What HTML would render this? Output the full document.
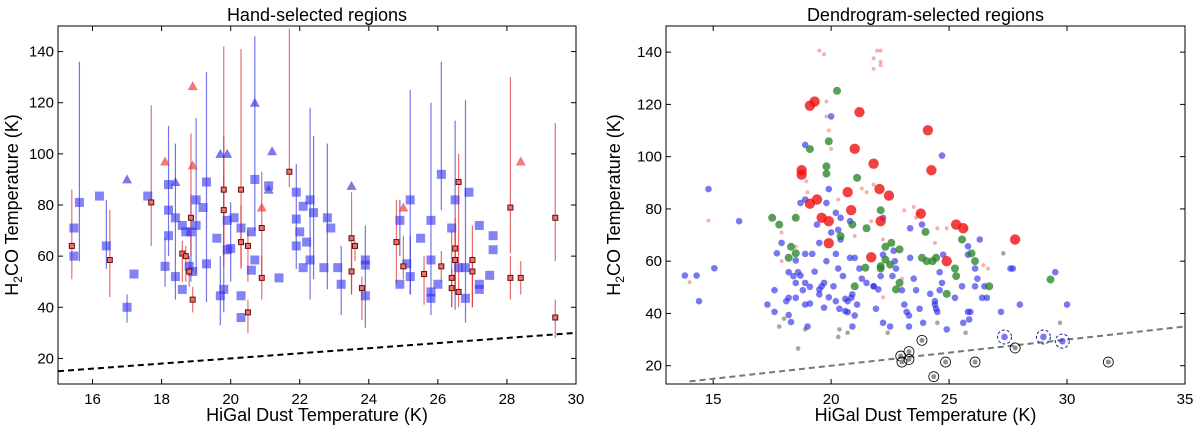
<!DOCTYPE html>
<html><head><meta charset="utf-8"><style>
html,body{margin:0;padding:0;background:#fff;width:1200px;height:430px;overflow:hidden}
svg text{font-family:"Liberation Sans","DejaVu Sans",sans-serif}
</style></head><body>
<svg id="chart" width="1200" height="430" xmlns="http://www.w3.org/2000/svg"></svg>
<script>
// ---------- Left panel data ----------
const lBlueX=[15.46,15.46,15.62,16.2,16.4,17.0,17.2,17.6,18.1,18.2,18.2,18.2,18.4,18.4,18.6,18.6,18.7,18.85,18.8,18.9,19.0,19.0,19.2,19.3,19.3,19.6,19.7,19.8,19.9,19.9,20.0,20.1,20.3,20.3,20.3,20.6,20.6,20.7,20.7,21.1,21.4,21.9,21.9,21.9,22.0,22.1,22.1,22.2,22.3,22.3,22.4,22.7,22.8,22.9,23.1,23.2,23.9,23.9,23.9,24.9,24.9,25.1,25.2,25.2,25.5,25.8,25.8,25.8,25.8,26.0,26.1,26.4,26.5,26.6,26.8,26.8,26.9,27.2,27.2,27.2,27.5,27.6,27.6];
const lBlueY=[71,60,81,83.5,64,40,53,83.5,56,88,78,68,75,52,72,47,69.5,69.5,56,54,82,72,79,89,57,67,44.5,47,74,62.5,63,75,71,44.5,36,69.5,54.5,58.5,90,87.5,51.5,85,74.5,64,69.5,55.5,79.5,65.5,82,58.5,77,55.5,75,71,55.5,49,58.5,56.5,44.5,74,49,57,52,82,67,74,58.5,46,43.5,49,92,71,82,55.5,55.5,43.5,85,72,49,47,52.5,68,62.5];
const lBlueLo=[null,null,58,null,55,34,null,null,48,null,60,null,43,null,null,null,null,50,null,null,53,null,null,42,null,null,33,38,null,null,50,null,null,null,null,null,null,null,70,null,null,55,null,null,null,null,null,null,43,null,51,null,47,null,null,37,32,null,null,60,null,null,45,45,null,37,null,null,null,null,78,null,39,null,null,34,null,null,null,null,null,null,null];
const lBlueHi=[null,null,136,null,82,45,null,null,67,null,111,null,104,null,null,null,null,84,null,null,114,null,null,132,null,null,60,92,null,null,81,null,null,null,null,null,null,null,146,null,null,96,null,null,null,null,null,null,118,null,107,null,104,null,null,64,72,null,null,82,null,null,68,125,null,120,null,null,null,null,136,null,113,null,null,121,null,null,null,null,null,null,null];
const lRedX=[15.4,16.5,17.7,18.6,18.7,18.85,18.8,18.9,19.8,19.8,20.3,20.3,20.5,20.5,20.9,20.9,21.7,23.5,23.5,23.6,23.8,24.8,25.0,25.6,26.1,26.4,26.4,26.5,26.5,26.6,26.6,27.0,27.0,28.1,28.1,28.4,29.4,29.4];
const lRedY=[64,58.5,81,61,60,75,54,43,86,78,86,65.5,64,38,71,51.5,93,67,54,64,47.5,65.5,56,53,56,51.5,47.5,63,58.5,89,46,58.5,54,79,51.5,51.5,75,36];
const lRedLo=[51,44,64,50,50,60,48,38,56,60,56,55,50,30,53,43,87,45,45,58,35,49,51,41,50,40,40,45,45,60,40,40,40,61,43,45,58,28];
const lRedHi=[86,78,119,66,64,108,60,48,142,107,141,80,70,43,93,60,149,85,65,66,52,82,68,60,62,70,55,75,70,100,60,72,60,130,60,58,112,43];
const lRedTriX=[18.1,18.9,18.9,20.9,25.0,28.4];
const lRedTriY=[97,126.5,95.5,79,79,97];
const lBlueTriX=[17.0,18.4,19.7,19.9,20.7,21.1,21.2,23.5];
const lBlueTriY=[90,89,100,100,120,86,101,87.5];
const lXTicks=[16,18,20,22,24,26,28,30];
const lYTicks=[20,40,60,80,100,120,140];
// ---------- Right panel data ----------
const rBlueX=[13.8,14.3,14.4,14.8,15.05,16.1,17.3,17.6,17.6,17.7,17.9,18.1,18.2,18.2,18.2,18.3,18.4,18.5,18.5,18.5,18.6,18.7,18.7,18.8,18.9,18.9,18.9,18.9,18.9,19.0,19.1,19.1,19.2,19.3,19.4,19.5,19.5,19.5,19.6,19.7,19.7,19.8,19.8,19.9,19.9,20.0,20.0,20.1,20.2,20.2,20.2,20.3,20.3,20.35,20.4,20.4,20.5,20.6,20.6,20.7,20.7,20.8,20.8,20.85,20.9,20.9,21.0,21.0,21.1,21.2,21.3,21.5,21.8,21.8,21.9,22.0,22.1,22.2,22.2,22.2,22.5,22.6,22.65,22.7,22.75,23.0,23.1,23.2,23.3,23.3,23.35,23.35,23.5,23.6,23.75,23.85,23.9,24.2,24.4,24.4,24.45,24.5,24.6,24.6,24.7,24.7,24.75,24.9,25.25,25.55,25.6,25.8,25.8,25.8,25.85,25.9,26.1,26.1,26.2,26.3,26.4,26.5,26.6,27.2,27.6,27.7,28.0,29.5,30.0];
const rBlueY=[54.5,54.5,44.7,87.6,57.3,75.3,43.4,48.9,40.6,63,67,44.7,55.8,46,39.4,36.7,54.3,51.7,46,60.3,55.8,82.3,54.5,48.9,62.8,43.4,104.5,83.6,51.7,35,50.2,43.8,62.8,56,74,67,49.2,47.3,50.4,42.2,51.7,60,82.3,87.6,46.2,115.4,71,50.4,62.8,78.5,44.7,72,57.2,41.8,76.6,68.3,54.3,40.9,45.6,40.5,44.7,75.3,61.3,46,47.3,35,61.3,39.2,43.4,57.2,53.3,51.7,50.4,50.4,41.8,49.2,54.3,62.5,76.6,36.4,35,54.3,64,60,57.2,48.9,43.4,40.6,35,39.2,72.6,61.3,53.3,48.9,41.8,74,36.4,47.5,44.7,43.4,41.8,40.6,55.8,48.9,51.7,100.4,62.5,33.9,46,50.4,36.4,65.7,62.5,40.6,37.7,40.6,57.2,50.4,53.3,68.3,46,50.4,46,40.6,57.2,57.2,43.4,55.8,43.4];
const rGreenX=[17.5,17.8,18.2,18.3,18.5,18.5,19.1,19.8,19.8,19.9,20.25,20.4,20.9,21.1,21.45,21.5,21.0,22.1,22.1,22.1,22.3,22.3,22.5,22.55,22.75,22.9,22.9,23.85,24.0,24.05,24.3,24.45,24.9,25.25,25.3,25.55,25.95,26.1,26.7,29.3];
const rGreenY=[76.6,74,61.3,65.5,76.6,63,102.9,93.5,96.3,105.9,125.2,69.6,74,91.9,57.5,72.6,50.4,79.5,58.1,57.2,65.5,60.6,58.7,67,49.2,64.5,51.7,61.3,71.2,60,60,61.3,47.5,57.2,54.3,68.3,63,60,50.4,53];
const rRedX=[19.1,19.3,18.75,18.75,19.1,19.4,19.6,19.9,19.9,20.7,20.85,21.0,21.2,21.7,21.8,22.05,22.1,22.45,23.8,24.1,24.25,24.9,25.3,25.6,27.8];
const rRedY=[119.5,121.1,94.8,93.1,82,83.6,76.6,75.3,66.9,86.4,79.5,103,117,61.5,97.3,87.6,75.3,85.1,78.2,110.1,94.8,60,74,72.6,68.3];
const rPinkX=[19.5,19.7,21.8,21.95,22.1,22.1,21.8,22.1,19.8,19.8,19.9,20.0,18.95,19.0,20.3,21.3,21.5,21.8,21.7,22.2,23.1,23.5,23.6,23.7,24.4,24.5,24.9,25.7,26.45,26.65,17.9,17.9,21.0,22.2,23.0,14.0,14.8,18.5];
const rPinkY=[140.6,139.2,137.6,140.6,140.6,136.3,133.6,135,121.1,115.4,110,103,90.6,86.4,83.6,87.8,86.4,89.3,75.3,68.3,79.5,80.8,76.6,78.2,67,72.6,72.6,72.6,58.5,57.2,71,60,69.6,46.2,53.3,52,75.5,65.5];
const rGrayX=[17.8,18.0,18.6,18.9,20.35,20.3,20.7,22.4,24.5,25.7,29.7,27.3];
const rGrayY=[35,38,26.6,33.9,33.9,31,32.6,32.6,36.4,32.6,36.4,63];
const rCircX=[22.95,23.0,23.3,23.3,23.85,24.35,24.85,26.1,27.8,31.75];
const rCircY=[23.7,21.4,25.4,22.4,29.7,15.8,21.4,21.4,26.8,21.4];
const rDashX=[27.35,29.0,29.8];
const rDashY=[31,31,29.4];
const rXTicks=[15,20,25,30,35];
const rYTicks=[20,40,60,80,100,120,140];

const NS="http://www.w3.org/2000/svg";
const svg=document.getElementById('chart');
function mk(tag,attrs,parent){const e=document.createElementNS(NS,tag);for(const k in attrs)e.setAttribute(k,attrs[k]);(parent||svg).appendChild(e);return e;}
function axis(x0,x1,y0,y1,L,R,T,B){return {sx:v=>L+(v-x0)/(x1-x0)*(R-L),sy:v=>B-(v-y0)/(y1-y0)*(B-T),L,R,T,B};}
const A=axis(15,30,10,150,58,576,26,384);
const Bx=axis(13,35,13,150,666,1185,26,384);

function frame(ax,xt,yt,title,name){
  const g=mk('g',{});
  
  
  xt.forEach(v=>{const x=ax.sx(v);
    mk('line',{x1:x,x2:x,y1:ax.B,y2:ax.B-5,stroke:'#000','stroke-width':1},g);
    mk('line',{x1:x,x2:x,y1:ax.T,y2:ax.T+5,stroke:'#000','stroke-width':1},g);
    const t=mk('text',{x:x,y:ax.B+20,'text-anchor':'middle','font-size':15},g);t.textContent=v;
    });
  yt.forEach(v=>{const y=ax.sy(v);
    mk('line',{x1:ax.L,x2:ax.L+5,y1:y,y2:y,stroke:'#000','stroke-width':1},g);
    mk('line',{x1:ax.R,x2:ax.R-5,y1:y,y2:y,stroke:'#000','stroke-width':1},g);
    const t=mk('text',{x:ax.L-4,y:y+5,'text-anchor':'end','font-size':15},g);t.textContent=v;
    });
  const r=mk('rect',{x:ax.L,y:ax.T,width:ax.R-ax.L,height:ax.B-ax.T,fill:'none',stroke:'#000','stroke-width':1},g);
  
  const tt=mk('text',{x:(ax.L+ax.R)/2,y:21,'text-anchor':'middle','font-size':18},g);tt.textContent=title;
  
  const xl=mk('text',{x:(ax.L+ax.R)/2,y:421,'text-anchor':'middle','font-size':18},g);xl.textContent='HiGal Dust Temperature (K)';
  
  const cy=(ax.T+ax.B)/2, lx=ax.L-(ax===A?40:46);
  const yl=mk('text',{x:lx,y:cy,'text-anchor':'middle','font-size':18,transform:`rotate(-90 ${lx} ${cy})`},g);
  yl.innerHTML='H<tspan font-size="12" dy="4">2</tspan><tspan dy="-4">CO Temperature (K)</tspan>';
  
}
frame(A,lXTicks,lYTicks,'Hand-selected regions','left');
frame(Bx,rXTicks,rYTicks,'Dendrogram-selected regions','right');

const defs=mk('defs',{});
const c1=mk('clipPath',{id:'c1'},defs);mk('rect',{x:A.L,y:A.T,width:A.R-A.L,height:A.B-A.T},c1);
const c2=mk('clipPath',{id:'c2'},defs);mk('rect',{x:Bx.L,y:Bx.T,width:Bx.R-Bx.L,height:Bx.B-Bx.T},c2);
const gL=mk('g',{'clip-path':'url(#c1)'});
const gR=mk('g',{'clip-path':'url(#c2)'});

const dl=mk('line',{x1:A.sx(15),y1:A.sy(15),x2:A.sx(30),y2:A.sy(30),stroke:'#000','stroke-width':2,'stroke-dasharray':'6,4'},gL);


lBlueX.forEach((v,i)=>{if(lBlueLo[i]==null)return;
  const e=mk('line',{x1:A.sx(v),x2:A.sx(v),y1:A.sy(lBlueLo[i]),y2:A.sy(lBlueHi[i]),stroke:'#3a3ae0','stroke-opacity':0.7,'stroke-width':1.2},gL);
  });
lRedX.forEach((v,i)=>{
  const e=mk('line',{x1:A.sx(v),x2:A.sx(v),y1:A.sy(lRedLo[i]),y2:A.sy(lRedHi[i]),stroke:'#e03030','stroke-opacity':0.7,'stroke-width':1.2},gL);
  });
lBlueX.forEach((v,i)=>{
  const s=mk('rect',{x:A.sx(v)-4.5,y:A.sy(lBlueY[i])-4.5,width:9,height:9,fill:'#3030f0','fill-opacity':0.6},gL);
  });
lRedX.forEach((v,i)=>{
  const s=mk('rect',{x:A.sx(v)-2.5,y:A.sy(lRedY[i])-2.5,width:5,height:5,fill:'#f07070',stroke:'#601010','stroke-width':1},gL);
  });
function tri(g,x,y,col){return mk('polygon',{points:`${x},${y-5} ${x-5},${y+4} ${x+5},${y+4}`,fill:col,'fill-opacity':0.65},g);}
lRedTriX.forEach((v,i)=>{const t=tri(gL,A.sx(v),A.sy(lRedTriY[i]),'#f03030');
  });
lBlueTriX.forEach((v,i)=>{const t=tri(gL,A.sx(v),A.sy(lBlueTriY[i]),'#3030e0');
  });

const dr=mk('line',{x1:Bx.sx(14),y1:Bx.sy(14),x2:Bx.sx(35),y2:Bx.sy(35),stroke:'#777','stroke-width':2,'stroke-dasharray':'6,4'},gR);

rPinkX.forEach((v,i)=>{const c=mk('circle',{cx:Bx.sx(v),cy:Bx.sy(rPinkY[i]),r:2,fill:'#f06060','fill-opacity':0.5},gR);
  });
rGrayX.forEach((v,i)=>{const c=mk('circle',{cx:Bx.sx(v),cy:Bx.sy(rGrayY[i]),r:2.3,fill:'#909090','fill-opacity':0.8},gR);
  });
rCircX.forEach((v,i)=>{const x=Bx.sx(v),y=Bx.sy(rCircY[i]);
  const c=mk('circle',{cx:x,cy:y,r:2.5,fill:'#909090'},gR);
  
  const o=mk('circle',{cx:x,cy:y,r:5,fill:'none',stroke:'#000','stroke-width':0.8},gR);
  });
rBlueX.forEach((v,i)=>{const c=mk('circle',{cx:Bx.sx(v),cy:Bx.sy(rBlueY[i]),r:3.3,fill:'#3030e8','fill-opacity':0.65},gR);
  });
rDashX.forEach((v,i)=>{const x=Bx.sx(v),y=Bx.sy(rDashY[i]);
  const c=mk('circle',{cx:x,cy:y,r:3.3,fill:'#3030e8','fill-opacity':0.65},gR);
  
  const o=mk('circle',{cx:x,cy:y,r:7,fill:'none',stroke:'#2020a0','stroke-width':1,'stroke-dasharray':'3,2'},gR);
  });
rGreenX.forEach((v,i)=>{const c=mk('circle',{cx:Bx.sx(v),cy:Bx.sy(rGreenY[i]),r:4,fill:'#208020','fill-opacity':0.75},gR);
  });
rRedX.forEach((v,i)=>{const c=mk('circle',{cx:Bx.sx(v),cy:Bx.sy(rRedY[i]),r:5.2,fill:'#f01010','fill-opacity':0.8},gR);
  });
</script>
</body></html>
